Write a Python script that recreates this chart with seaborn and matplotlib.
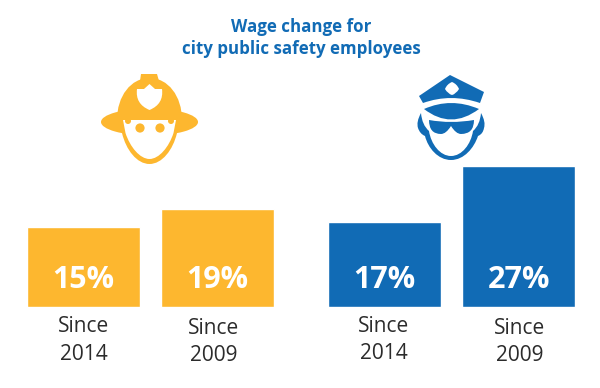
import pandas as pd
import matplotlib
matplotlib.use('Agg')
import matplotlib.pyplot as plt
from matplotlib.patches import Ellipse, Circle, PathPatch, Polygon
from matplotlib.path import Path
import seaborn as sns

title_lines = ['Wage change for', 'city public safety employees']
periods = ['Since\n2014', 'Since\n2009']
fire_labels = ['15%', '19%']
police_labels = ['17%', '27%']
# bar heights as drawn in the picture, they are not quite to scale with the labels
fire_heights = [15.2, 18.7]
police_heights = [16.3, 27.0]

yellow = '#FDB72F'
blue = '#116BB5'
W, H = 600, 388

sns.set_theme(style='white')
plt.rcParams['font.family'] = ['Open Sans', 'DejaVu Sans']

fig = plt.figure(figsize=(6, 3.88), dpi=100)


def px_axes(x0, x1, y_top, y_bottom):
    return fig.add_axes([x0 / W, 1 - y_bottom / H, (x1 - x0) / W, (y_bottom - y_top) / H])


def bars(ax, heights, labels, color, label_off):
    df = pd.DataFrame({'period': periods, 'change': heights})
    sns.barplot(data=df, x='period', y='change', color=color, saturation=1, width=0.84, ax=ax)
    ax.set_ylim(0, 27.2)
    ax.set_xlim(-0.5, 1.5)
    ax.axis('off')
    for i in range(2):
        ax.text(i, 5.1, labels[i], color='white', fontsize=22, fontweight='bold', ha='center', va='center')
        ax.annotate(periods[i], (i, 0), xytext=label_off[i], textcoords='offset pixels',
                    ha='center', va='top', fontsize=15, color='#2b2b2b', linespacing=1.42,
                    annotation_clip=False)


ax1 = px_axes(16, 284.5, 165, 306.5)
bars(ax1, fire_heights, fire_labels, yellow, [(0.5, -10), (-3.5, -11)])
ax2 = px_axes(317.5, 586, 165, 306.5)
bars(ax2, police_heights, police_labels, blue, [(-1, -9), (1, -11)])

# overlay in pixel coordinates for title and the two icons
ov = fig.add_axes([0, 0, 1, 1], zorder=5)
ov.set_xlim(0, W)
ov.set_ylim(H, 0)
ov.axis('off')
ov.patch.set_alpha(0)

ov.text(301, 27, title_lines[0], color=blue, fontsize=12.2, fontweight='bold', ha='center', va='center')
ov.text(301, 49, title_lines[1], color=blue, fontsize=12.2, fontweight='bold', ha='center', va='center')

M, L, C = Path.MOVETO, Path.LINETO, Path.CURVE4
Q = Path.CURVE3


def shape(verts, codes, **kw):
    ov.add_patch(PathPatch(Path(verts, codes), lw=0, **kw))


# fire helmet
ov.add_patch(Polygon([(140, 81), (141, 74), (157, 74), (159, 81)], color=yellow, lw=0))
shape([(117, 120), (117, 96), (131, 78), (149.5, 78), (168, 78), (182, 96), (182, 120), (117, 120)],
      [M, C, C, C, C, C, C, L], color=yellow)
ov.add_patch(Ellipse((149.5, 122), 97, 27, color=yellow, lw=0))
# face
shape([(122, 125), (122, 133), (126, 150), (137, 164), (149.5, 164), (162, 164), (173, 150), (177, 133), (177, 125), (122, 125)],
      [M, L, C, C, C, C, C, C, L, L], color=yellow)
shape([(123, 120), (125.5, 133), (130, 147), (140, 159), (149.5, 159), (159, 159), (169, 147), (173.5, 133), (176, 120), (123, 120)],
      [M, L, C, C, C, C, C, C, L, L], color='white')
ov.add_patch(Circle((128, 121), 3, color=yellow, lw=0))
ov.add_patch(Circle((171, 121), 3, color=yellow, lw=0))
ov.add_patch(Circle((140, 128), 4.6, color=yellow, lw=0))
ov.add_patch(Circle((160, 128), 4.6, color=yellow, lw=0))
# shield on helmet
shape([(137, 89), (144, 89), (149.5, 84), (155, 89), (162, 89), (164, 104), (149.5, 110), (135, 104), (137, 89)],
      [M, L, L, L, L, Q, Q, Q, Q], color='white')

# police cap
shape([(419, 96), (450, 75), (484, 92), (480, 103), (451, 93), (423, 103), (419, 96)],
      [M, L, L, L, Q, Q, L], color=blue)
shape([(445, 89), (447, 84), (452, 82), (457, 84), (459, 89), (456, 94), (452, 95), (448, 94), (445, 89)],
      [M, Q, Q, Q, Q, Q, Q, Q, Q], color='white')
# visor
shape([(424, 109), (451, 97), (479, 109), (451, 130), (424, 109)], [M, Q, Q, Q, Q], color=blue)
# head outline
shape([(421, 113), (416, 122), (418, 128), (420, 134), (425, 136), (428, 148), (438, 160), (451, 160),
       (464, 160), (474, 148), (478, 136), (483, 134), (484, 128), (486, 122), (481, 113),
       (480, 125), (473, 131), (471, 144), (462, 156), (451, 156), (440, 156), (431, 144), (429, 131),
       (422, 125), (421, 113)],
      [M, Q, Q, Q, Q, C, C, C, C, C, C, Q, Q, Q, Q, Q, Q, C, C, C, C, C, C, Q, Q], color=blue)
# sunglasses
shape([(429, 120), (451, 124), (474, 120), (474, 134), (461, 134), (456, 134), (451, 126), (446, 134),
       (441, 134), (429, 134), (429, 120)],
      [M, Q, Q, Q, Q, Q, Q, Q, Q, Q, Q], color=blue)

fig.savefig('out.png', dpi=100, facecolor='white')
